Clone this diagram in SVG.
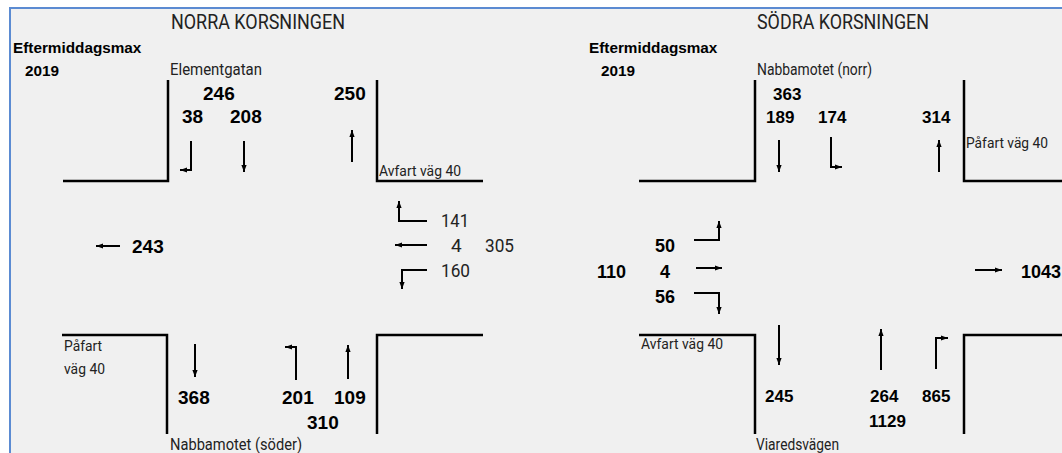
<svg xmlns="http://www.w3.org/2000/svg" width="1062" height="453" viewBox="0 0 1062 453">
<defs>
<style>
.bg{fill:#f0f0f0}
.frame{fill:none;stroke:#5b8bd2;stroke-width:2}
.road{fill:none;stroke:#000;stroke-width:2.5}
.arr{fill:none;stroke:#000;stroke-width:2;marker-end:url(#ah)}
.t{font-family:Roboto,"Liberation Sans",sans-serif;fill:#222}
.s{font-size:15px}
.m{font-size:16px}
.l{font-size:19px}
.h{font-size:20px}
.b{font-family:"Liberation Sans",Arial,sans-serif;font-weight:bold;fill:#000}
.b15{font-size:15.3px}
.b19{font-size:19px}
.b18{font-size:18px}
.b17{font-size:17px}
</style>
<marker id="ah" viewBox="0 0 7 6" refX="7" refY="3" markerWidth="7" markerHeight="6" orient="auto" markerUnits="userSpaceOnUse">
<path d="M0,0.4 L7,3 L0,5.6 z" fill="#000"/>
</marker>
</defs>
<rect x="0" y="0" width="1062" height="453" fill="#fff"/>
<rect class="bg" x="9" y="7" width="1053" height="446"/>
<path class="frame" d="M10,453 V8 H1062"/>

<g id="norra">
<text class="t h" x="171" y="29" textLength="174" lengthAdjust="spacingAndGlyphs">NORRA KORSNINGEN</text>
<text class="b b15" x="13" y="53">Eftermiddagsmax</text>
<text class="b b15" x="25" y="76">2019</text>
<text class="t m" x="170" y="75" textLength="92" lengthAdjust="spacingAndGlyphs">Elementgatan</text>
<text class="b b19" x="203" y="100">246</text>
<text class="b b19" x="182" y="123">38</text>
<text class="b b19" x="230" y="123">208</text>
<text class="b b19" x="334" y="100">250</text>
<text class="t s" x="379" y="176" textLength="82" lengthAdjust="spacingAndGlyphs">Avfart väg 40</text>
<text class="t l" x="441" y="227" textLength="28" lengthAdjust="spacingAndGlyphs">141</text>
<text class="t l" x="451" y="252">4</text>
<text class="t l" x="485" y="252" textLength="29" lengthAdjust="spacingAndGlyphs">305</text>
<text class="t l" x="441" y="277" textLength="29" lengthAdjust="spacingAndGlyphs">160</text>
<text class="b b19" x="132" y="253">243</text>
<text class="t s" x="64" y="351" textLength="38" lengthAdjust="spacingAndGlyphs">Påfart</text>
<text class="t s" x="64" y="374" textLength="41" lengthAdjust="spacingAndGlyphs">väg 40</text>
<text class="b b19" x="178" y="404">368</text>
<text class="b b19" x="282" y="404">201</text>
<text class="b b19" x="334" y="404">109</text>
<text class="b b19" x="307" y="429">310</text>
<text class="t m" x="170" y="450" textLength="132" lengthAdjust="spacingAndGlyphs">Nabbamotet (söder)</text>
<path class="road" d="M63,181 H168 V80"/>
<path class="road" d="M377,80 V181 H483"/>
<path class="road" d="M62,335 H167 V434"/>
<path class="road" d="M377,434 V335 H483"/>
</g>

<g id="sodra">
<text class="t h" x="757" y="29" textLength="172" lengthAdjust="spacingAndGlyphs">SÖDRA KORSNINGEN</text>
<text class="b b15" x="589" y="53">Eftermiddagsmax</text>
<text class="b b15" x="601" y="76">2019</text>
<text class="t m" x="757" y="75" textLength="115" lengthAdjust="spacingAndGlyphs">Nabbamotet (norr)</text>
<text class="b b17" x="773" y="100">363</text>
<text class="b b17" x="766" y="123">189</text>
<text class="b b17" x="818" y="123">174</text>
<text class="b b17" x="922" y="123">314</text>
<text class="t s" x="966" y="148" textLength="82" lengthAdjust="spacingAndGlyphs">Påfart väg 40</text>
<text class="b b18" x="655" y="252">50</text>
<text class="b b18" x="597" y="278">110</text>
<text class="b b18" x="660" y="278">4</text>
<text class="b b18" x="655" y="303">56</text>
<text class="b b18" x="1021" y="278">1043</text>
<text class="t s" x="641" y="349" textLength="82" lengthAdjust="spacingAndGlyphs">Avfart väg 40</text>
<text class="b b17" x="765" y="402">245</text>
<text class="b b17" x="870" y="402">264</text>
<text class="b b17" x="922" y="402">865</text>
<text class="b b17" x="869" y="427">1129</text>
<text class="t m" x="756" y="450" textLength="83" lengthAdjust="spacingAndGlyphs">Viaredsvägen</text>
<path class="road" d="M639,181 H755 V80"/>
<path class="road" d="M964,80 V181 H1062"/>
<path class="road" d="M639,335 H755 V434"/>
<path class="road" d="M964,434 V335 H1062"/>
</g>

<g id="connectors">
<path class="arr" d="M191,141 V170 H180"/>
<path class="arr" d="M244,141 V172"/>
<path class="arr" d="M352,162 V130"/>
<path class="arr" d="M427,221 H399 V201"/>
<path class="arr" d="M427,245 H395"/>
<path class="arr" d="M427,270 H402 V289"/>
<path class="arr" d="M120,246 H96"/>
<path class="arr" d="M195,344 V377"/>
<path class="arr" d="M296,380 V347 H285"/>
<path class="arr" d="M348,379 V345"/>
<path class="arr" d="M779,140 V172"/>
<path class="arr" d="M831,137 V167 H842"/>
<path class="arr" d="M939,172 V140"/>
<path class="arr" d="M694,240 H719 V221"/>
<path class="arr" d="M696,268 H722"/>
<path class="arr" d="M694,293 H719 V314"/>
<path class="arr" d="M975,270 H1002"/>
<path class="arr" d="M779,325 V365"/>
<path class="arr" d="M881,370 V329"/>
<path class="arr" d="M936,369 V338 H948"/>
</g>
</svg>
